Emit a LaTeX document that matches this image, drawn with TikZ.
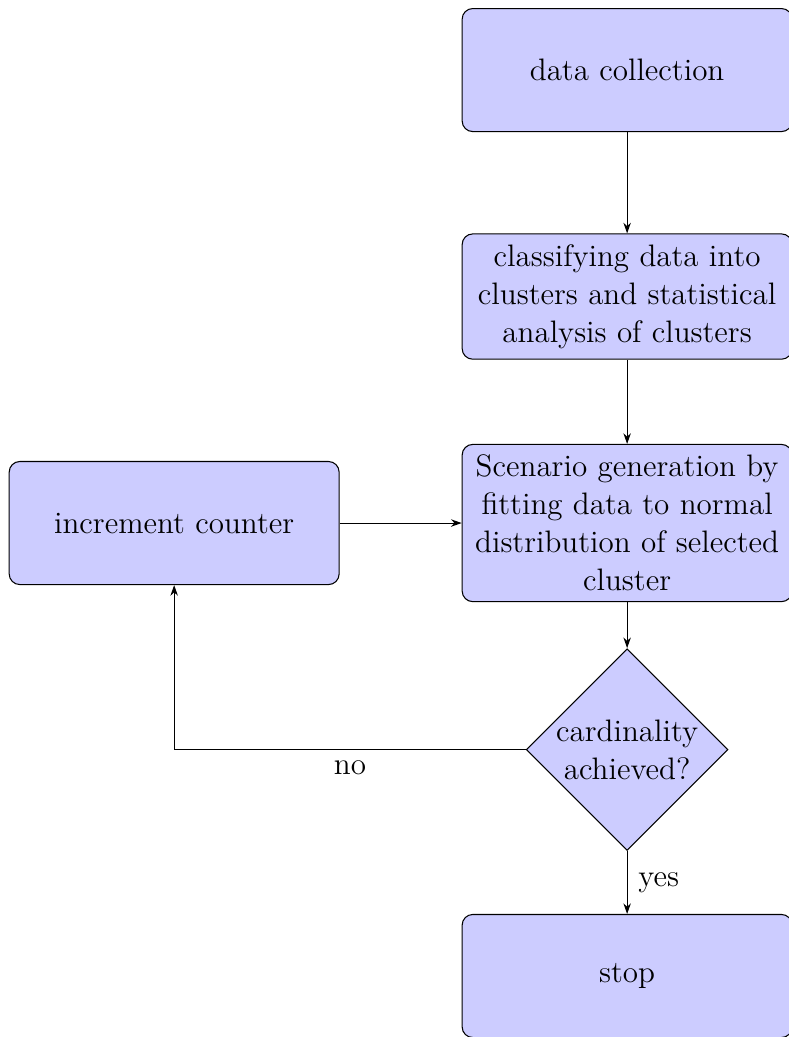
\documentclass[tikz,border=0pt,12pt]{standalone}
\usepackage{tikz}
\usepackage{xcolor}
\usetikzlibrary{arrows.meta}
\usetikzlibrary{shapes.geometric}
\tikzset{> = {Stealth[length=4pt,width=2.8pt]}}
\tikzset{procbox/.style={rectangle,rounded corners,draw=black,fill=blue!20,text width=4.3cm,inner xsep=1pt,inner ysep=4pt,minimum height=1.63cm,align=center},
	testbox/.style={diamond,draw=black,fill=blue!20,inner sep=0pt,align=center}}

\begin{document}
\begin{tikzpicture}[font=\fontsize{11.7}{14.3}\selectfont]
	\useasboundingbox (-8.307,.928) rectangle (2.133,-12.808);
	%main column at x=0, rows 3cm apart, loop box one column to the left
	\node[procbox] (collect) at (0,0){data collection};
	\node[procbox] (classify) at (0,-3){classifying data into\\clusters and statistical\\analysis of clusters};
	\node[procbox] (scenario) at (0,-6){Scenario generation by\\fitting data to normal\\distribution of selected\\cluster};
	\node[testbox] (card) at (0,-9){cardinality\\achieved?};
	\node[procbox] (stop) at (0,-12){stop};
	\node[procbox] (counter) at (-6,-6){increment counter};
	\draw[->] (collect)--(classify);
	\draw[->] (classify)--(scenario);
	\draw[->] (scenario)--(card);
	\draw[->] (card)--node[right]{yes}(stop);
	\draw[->] (card)-|node[below,pos=.25]{no}(counter);
	\draw[->] (counter)--(scenario);
\end{tikzpicture}
\end{document}
